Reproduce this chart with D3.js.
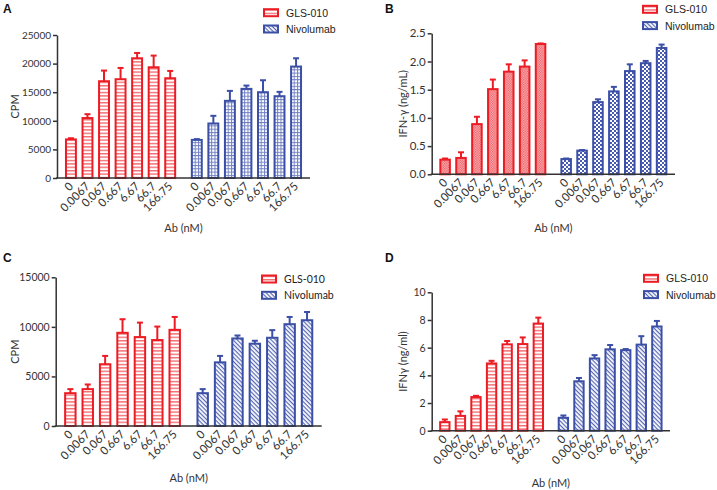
<!DOCTYPE html>
<html lang="en">
<head>
  <meta charset="UTF-8">
  <title>GLS-010 vs Nivolumab</title>
  <script src="https://d3js.org/d3.v7.min.js"></script>
  <style>
    body { margin: 0; background: #fff; }
    svg { display: block; }
  </style>
</head>
<body>
  <div id="canvas"></div>
  <script>
    const doses = ['0', '0.0067', '0.067', '0.667', '6.67', '66.7', '166.75'];
    const groups = ['GLS-010', 'Nivolumab'];

    // panel A - CPM
    const aGls = [6750, 10480, 16920, 17270, 20930, 19360, 17440];
    const aGlsTop = [6950, 11160, 18780, 19240, 21860, 21400, 18720];
    const aNivo = [6660, 9530, 13490, 15580, 15000, 14300, 19480];
    const aNivoTop = [6800, 10870, 15230, 16160, 17090, 15060, 20930];
    const aTicks = [0, 5000, 10000, 15000, 20000, 25000];

    // panel B - IFN-γ (ng/mL)
    const bGls = [0.26, 0.29, 0.89, 1.51, 1.82, 1.91, 2.31];
    const bGlsTop = [0.28, 0.39, 1.02, 1.68, 1.95, 2.02, 2.32];
    const bNivo = [0.27, 0.42, 1.28, 1.47, 1.83, 1.97, 2.24];
    const bNivoTop = [0.28, 0.43, 1.33, 1.55, 1.95, 2.01, 2.30];
    const bTicks = [0, 0.5, 1.0, 1.5, 2.0, 2.5];

    // panel C - CPM
    const cGls = [3310, 3720, 6230, 9400, 8970, 8670, 9700];
    const cGlsTop = [3720, 4190, 7070, 10770, 10430, 10030, 11000];
    const cNivo = [3310, 6420, 8830, 8300, 8900, 10270, 10670];
    const cNivoTop = [3720, 7070, 9130, 8600, 9670, 11000, 11500];
    const cTicks = [0, 5000, 10000, 15000];

    // panel D - IFNγ (ng/ml)
    const dGls = [0.62, 1.07, 2.43, 4.86, 6.24, 6.26, 7.74];
    const dGlsTop = [0.81, 1.40, 2.52, 5.05, 6.48, 6.74, 8.17];
    const dNivo = [0.93, 3.57, 5.22, 5.88, 5.82, 6.22, 7.53];
    const dNivoTop = [1.10, 3.81, 5.46, 6.19, 5.90, 6.83, 7.93];
    const dTicks = [0, 2, 4, 6, 8, 10];

    const red = '#ec1c24';
    const blue = '#3b4fa6';
    const axisColor = '#333';
    const axisFont = "Lato, 'Open Sans', sans-serif";
    const arialFont = "'Liberation Sans', Arial, sans-serif";

    const width = 717;
    const height = 490;

    const svg = d3.select('#canvas')
      .append('svg')
      .attr('width', width)
      .attr('height', height);

    const defs = svg.append('defs');

    // horizontal stripes (red)
    const hStripes = defs.append('pattern')
      .attr('id', 'hStripes')
      .attr('patternUnits', 'userSpaceOnUse')
      .attr('width', 6).attr('height', 3.4);
    hStripes.append('rect').attr('width', 6).attr('height', 3.4).attr('fill', '#fff');
    hStripes.append('rect').attr('y', 0).attr('width', 6).attr('height', 1.4).attr('fill', '#f26d72');

    // grid (blue, panel A)
    const grid = defs.append('pattern')
      .attr('id', 'grid')
      .attr('patternUnits', 'userSpaceOnUse')
      .attr('width', 3.3).attr('height', 3.3);
    grid.append('rect').attr('width', 3.3).attr('height', 3.3).attr('fill', '#fff');
    grid.append('rect').attr('width', 3.3).attr('height', 1).attr('fill', '#6f7fc2');
    grid.append('rect').attr('width', 1).attr('height', 3.3).attr('fill', '#6f7fc2');

    // fine mesh (red, panel B)
    const mesh = defs.append('pattern')
      .attr('id', 'mesh')
      .attr('patternUnits', 'userSpaceOnUse')
      .attr('width', 2.4).attr('height', 2.4);
    mesh.append('rect').attr('width', 2.4).attr('height', 2.4).attr('fill', '#f7b7ba');
    mesh.append('rect').attr('width', 1.2).attr('height', 1.2).attr('fill', '#ef5a60');
    mesh.append('rect').attr('x', 1.2).attr('y', 1.2).attr('width', 1.2).attr('height', 1.2).attr('fill', '#ef5a60');

    // checkerboard (blue, panel B)
    const checker = defs.append('pattern')
      .attr('id', 'checker')
      .attr('patternUnits', 'userSpaceOnUse')
      .attr('width', 4).attr('height', 4);
    checker.append('rect').attr('width', 4).attr('height', 4).attr('fill', '#fff');
    checker.append('rect').attr('width', 2).attr('height', 2).attr('fill', '#4a5cb0');
    checker.append('rect').attr('x', 2).attr('y', 2).attr('width', 2).attr('height', 2).attr('fill', '#4a5cb0');

    // diagonal hatch (blue, panels C/D and legends)
    const diag = defs.append('pattern')
      .attr('id', 'diag')
      .attr('patternUnits', 'userSpaceOnUse')
      .attr('width', 3).attr('height', 3)
      .attr('patternTransform', 'rotate(45)');
    diag.append('rect').attr('width', 3).attr('height', 3).attr('fill', '#fff');
    diag.append('rect').attr('width', 3).attr('height', 1.2).attr('fill', '#5567b5');

    const panels = [
      {
        letter: 'A', lx: 3, ly: 13,
        x0: 57, x1: 310, yBottom: 178, yTop: 35,
        max: 25000, ticks: aTicks, fmt: d3.format('d'), tickSize: 10,
        yLabel: 'CPM', yLabelX: 19,
        gls: aGls, glsTop: aGlsTop, nivo: aNivo, nivoTop: aNivoTop,
        glsFill: 'url(#hStripes)', nivoFill: 'url(#grid)',
        legX: 263, legY: 12.7, legFont: arialFont, xTitleY: 232
      },
      {
        letter: 'B', lx: 385, ly: 13,
        x0: 431.7, x1: 675, yBottom: 174.3, yTop: 33.3,
        max: 2.5, ticks: bTicks, fmt: d3.format('.1f'), tickSize: 11.5,
        yLabel: 'IFN-\u03b3 (ng/mL)', yLabelX: 407,
        gls: bGls, glsTop: bGlsTop, nivo: bNivo, nivoTop: bNivoTop,
        glsFill: 'url(#mesh)', nivoFill: 'url(#checker)',
        legX: 642, legY: 9.3, legFont: arialFont, xTitleY: 232
      },
      {
        letter: 'C', lx: 3, ly: 262,
        x0: 55.7, x1: 321.7, yBottom: 426, yTop: 277.3,
        max: 15000, ticks: cTicks, fmt: d3.format('d'), tickSize: 10.5,
        yLabel: 'CPM', yLabelX: 19,
        gls: cGls, glsTop: cGlsTop, nivo: cNivo, nivoTop: cNivoTop,
        glsFill: 'url(#hStripes)', nivoFill: 'url(#diag)',
        legX: 261, legY: 279, legFont: axisFont, xTitleY: 482
      },
      {
        letter: 'D', lx: 385, ly: 262,
        x0: 431.7, x1: 670, yBottom: 430.7, yTop: 292.3,
        max: 10, ticks: dTicks, fmt: d3.format('d'), tickSize: 10.5,
        yLabel: 'IFN\u03b3 (ng/ml)', yLabelX: 407,
        gls: dGls, glsTop: dGlsTop, nivo: dNivo, nivoTop: dNivoTop,
        glsFill: 'url(#hStripes)', nivoFill: 'url(#diag)',
        legX: 643, legY: 278.3, legFont: arialFont, xTitleY: 487
      }
    ];

    panels.forEach(p => {
      const g = svg.append('g');

      const xGroup = d3.scaleBand()
        .domain(groups)
        .range([p.x0, p.x1])
        .paddingInner(0.08)
        .paddingOuter(0.045);
      const xDose = d3.scaleBand()
        .domain(doses)
        .range([0, xGroup.bandwidth()])
        .paddingInner(0.4)
        .paddingOuter(0.2);
      const y = d3.scaleLinear()
        .domain([0, p.max])
        .range([p.yBottom, p.yTop]);

      const series = [
        { name: groups[0], vals: p.gls, tops: p.glsTop, fill: p.glsFill, color: red },
        { name: groups[1], vals: p.nivo, tops: p.nivoTop, fill: p.nivoFill, color: blue }
      ];

      series.forEach(s => {
        const rows = doses.map((d, i) => ({ dose: d, v: s.vals[i], top: s.tops[i] }));
        const gx = xGroup(s.name);
        const sg = g.append('g');

        // error bars (upper only)
        sg.selectAll('line.err')
          .data(rows)
          .enter()
          .append('line')
          .attr('x1', d => gx + xDose(d.dose) + xDose.bandwidth() / 2)
          .attr('x2', d => gx + xDose(d.dose) + xDose.bandwidth() / 2)
          .attr('y1', d => y(d.v))
          .attr('y2', d => y(d.top))
          .attr('stroke', s.color)
          .attr('stroke-width', 2);
        sg.selectAll('line.cap')
          .data(rows)
          .enter()
          .append('line')
          .attr('x1', d => gx + xDose(d.dose) + xDose.bandwidth() / 2 - 3)
          .attr('x2', d => gx + xDose(d.dose) + xDose.bandwidth() / 2 + 3)
          .attr('y1', d => y(d.top))
          .attr('y2', d => y(d.top))
          .attr('stroke', s.color)
          .attr('stroke-width', 2);

        sg.selectAll('rect')
          .data(rows)
          .enter()
          .append('rect')
          .attr('x', d => gx + xDose(d.dose))
          .attr('y', d => y(d.v))
          .attr('width', xDose.bandwidth())
          .attr('height', d => y(0) - y(d.v))
          .attr('fill', s.fill)
          .attr('stroke', s.color)
          .attr('stroke-width', 2);

        // dose labels, rotated
        sg.selectAll('text')
          .data(rows)
          .enter()
          .append('text')
          .attr('text-anchor', 'end')
          .attr('transform', d => 'translate(' + (gx + xDose(d.dose) + xDose.bandwidth() / 2 + 3) + ',' + (p.yBottom + 9) + ') rotate(-45)')
          .style('font-family', axisFont)
          .style('font-size', '11.5px')
          .attr('fill', axisColor)
          .text(d => d.dose);
      });

      // y axis
      const yAxis = d3.axisLeft(y)
        .tickValues(p.ticks)
        .tickFormat(p.fmt)
        .tickSize(4)
        .tickSizeOuter(0)
        .tickPadding(2);
      const ya = g.append('g')
        .attr('transform', 'translate(' + p.x0 + ',0)')
        .call(yAxis);
      ya.select('.domain').attr('stroke', axisColor).attr('stroke-width', 1.5);
      ya.selectAll('.tick line').attr('stroke', axisColor).attr('stroke-width', 1.5);
      ya.selectAll('.tick text')
        .style('font-family', axisFont)
        .style('font-size', p.tickSize + 'px')
        .attr('fill', axisColor);

      // x axis line
      g.append('line')
        .attr('x1', p.x0 - 1)
        .attr('x2', p.x1)
        .attr('y1', p.yBottom)
        .attr('y2', p.yBottom)
        .attr('stroke', axisColor)
        .attr('stroke-width', 1.5);

      g.append('text')
        .attr('text-anchor', 'middle')
        .attr('transform', 'translate(' + p.yLabelX + ',' + ((p.yBottom + p.yTop) / 2) + ') rotate(-90)')
        .style('font-family', axisFont)
        .style('font-size', '11px')
        .attr('fill', axisColor)
        .text(p.yLabel);

      g.append('text')
        .attr('text-anchor', 'middle')
        .attr('x', (p.x0 + p.x1) / 2)
        .attr('y', p.xTitleY)
        .style('font-family', axisFont)
        .style('font-size', '11px')
        .attr('fill', axisColor)
        .text('Ab (nM)');

      g.append('text')
        .attr('x', p.lx)
        .attr('y', p.ly)
        .style('font-family', arialFont)
        .style('font-size', '12px')
        .style('font-weight', 'bold')
        .attr('fill', '#111')
        .text(p.letter);

      // legend
      const leg = g.selectAll('g.leg')
        .data(series)
        .enter()
        .append('g')
        .attr('transform', (d, i) => 'translate(' + p.legX + ',' + (p.legY + i * 16.3) + ')');
      leg.append('rect')
        .attr('x', 1)
        .attr('y', -3.5)
        .attr('width', 14)
        .attr('height', 7)
        .attr('fill', (d, i) => i === 0 ? 'url(#hStripes)' : 'url(#diag)')
        .attr('stroke', d => d.color)
        .attr('stroke-width', 2);
      leg.append('text')
        .attr('x', 23)
        .attr('y', 4)
        .style('font-family', p.legFont)
        .style('font-size', '10.5px')
        .attr('fill', '#222')
        .text(d => d.name);
    });
  </script>
</body>
</html>
